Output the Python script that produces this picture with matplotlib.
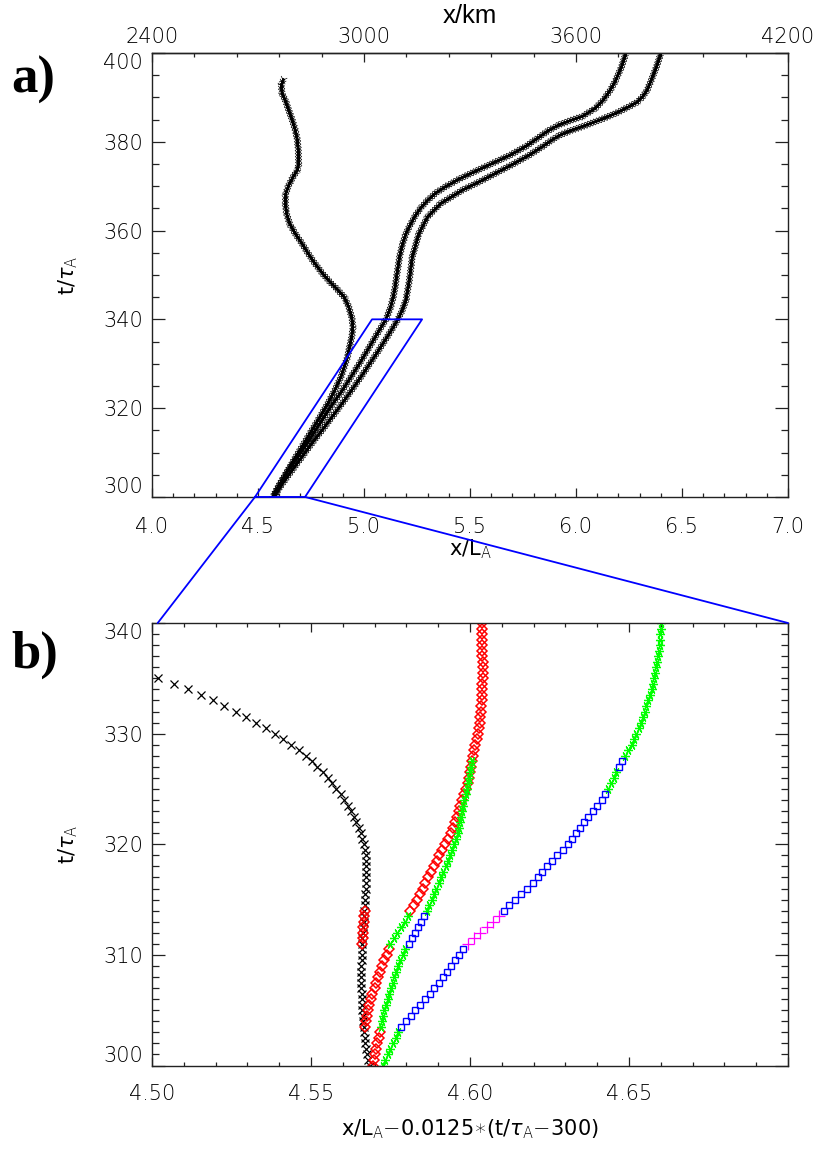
import numpy as np
import matplotlib
matplotlib.use("Agg")
import matplotlib.pyplot as plt
from matplotlib import patheffects as pe
from matplotlib.patches import ConnectionPatch
from matplotlib.ticker import FixedLocator, MultipleLocator

plt.rcParams['font.family'] = ['DejaVu Sans']
plt.rcParams['font.weight'] = 'light'
plt.rcParams['mathtext.fontset'] = 'dejavusans'

# ---------------- panel a: front tracks in x/L_A versus t/tau_A ----------------
c1_t = [300.0, 303.0, 306.0, 309.0, 312.0, 315.0, 318.0, 321.0, 324.0, 327.0, 329.3,
        331.5, 333.8, 336.0, 338.3, 340.5, 342.8, 345.0, 346.7, 348.4, 350.3, 352.6,
        354.8, 357.1, 359.3, 361.6, 363.8, 366.1, 368.3, 370.2, 372.1, 373.6, 375.1,
        378.1, 380.3, 382.6, 384.8, 387.1, 389.3, 390.8, 392.7, 394.2]
c1_x = [4.569, 4.604, 4.641, 4.678, 4.716, 4.754, 4.792, 4.829, 4.862, 4.891, 4.907,
        4.922, 4.932, 4.942, 4.948, 4.942, 4.928, 4.907, 4.875, 4.840, 4.805, 4.768,
        4.737, 4.707, 4.676, 4.649, 4.635, 4.629, 4.631, 4.645, 4.666, 4.686, 4.692,
        4.690, 4.686, 4.676, 4.662, 4.645, 4.629, 4.614, 4.610, 4.621]

c2_t = [300.0, 303.0, 306.0, 309.0, 312.0, 315.0, 318.0, 321.0, 324.0, 327.0, 330.0,
        333.0, 336.0, 338.0, 340.0, 342.8, 345.0, 347.3, 350.0, 354.1, 357.0, 359.3,
        361.0, 363.1, 365.0, 366.8, 368.5, 369.8, 371.5, 373.0, 375.0, 377.0, 379.0,
        381.0, 382.5, 383.8, 384.8, 385.7, 387.5, 389.4, 391.5, 393.5, 396.9, 400.0]
c2_x = [4.572, 4.605, 4.643, 4.687, 4.730, 4.771, 4.812, 4.853, 4.898, 4.938, 4.978,
        5.016, 5.053, 5.078, 5.104, 5.126, 5.138, 5.147, 5.155, 5.168, 5.182, 5.198,
        5.215, 5.239, 5.266, 5.300, 5.340, 5.382, 5.445, 5.510, 5.600, 5.690, 5.765,
        5.825, 5.870, 5.920, 5.975, 6.030, 6.090, 6.129, 6.160, 6.184, 6.215, 6.236]

c3_t = [300.0, 303.0, 306.0, 309.0, 312.0, 315.0, 318.0, 321.0, 324.0, 327.0, 330.0,
        333.0, 336.0, 338.0, 340.0, 342.0, 344.3, 348.8, 354.1, 359.3, 363.1, 366.1,
        369.1, 371.0, 373.0, 375.0, 377.0, 379.0, 380.5, 381.5, 382.5, 383.5, 385.0,
        386.5, 387.9, 388.9, 390.2, 391.5, 393.5, 396.9, 400.0]
c3_x = [4.573, 4.615, 4.661, 4.707, 4.753, 4.802, 4.849, 4.896, 4.941, 4.985, 5.027,
        5.069, 5.109, 5.135, 5.160, 5.180, 5.198, 5.214, 5.228, 5.259, 5.300, 5.362,
        5.464, 5.545, 5.625, 5.705, 5.780, 5.845, 5.890, 5.925, 5.975, 6.035, 6.118,
        6.192, 6.250, 6.288, 6.315, 6.334, 6.352, 6.380, 6.401]

# zoom box (parallelogram) corners in panel a
box_x = [4.486, 4.722, 5.274, 5.038, 4.486]
box_t = [300.0, 300.0, 340.0, 340.0, 300.0]

# ---------------- panel b: sheared coordinate, snapshots every 0.5 t/tau_A ----------------
DT = 0.5
black_t0 = 300.0
black_x = [4.5685, 4.5680, 4.5676, 4.5673, 4.5671, 4.5670, 4.5668, 4.5666, 4.5665, 4.5663,
           4.5662, 4.5661, 4.5660, 4.5659, 4.5658, 4.5658, 4.5658, 4.5658, 4.5658, 4.5659,
           4.5659, 4.5660, 4.5661, 4.5662, 4.5663, 4.5664, 4.5666, 4.5667, 4.5668, 4.5669,
           4.5670, 4.5671, 4.5672, 4.5673, 4.5674, 4.5674, 4.5674, 4.5673, 4.5672, 4.5669,
           4.5666, 4.5662, 4.5657, 4.5651, 4.5643, 4.5635, 4.5625, 4.5615, 4.5604, 4.5593,
           4.5580, 4.5567, 4.5553, 4.5537, 4.5520, 4.5502, 4.5483, 4.5461, 4.5438, 4.5413,
           4.5387, 4.5358, 4.5328, 4.5296, 4.5263, 4.5228, 4.5192, 4.5153, 4.5112, 4.5068,
           4.5020, 4.4970]

red_on_black_t0 = 311.0
red_on_black_x = [4.5662, 4.5663, 4.5664, 4.5665, 4.5667, 4.5668, 4.5669]

# track starting red at the bottom, then green / blue / green
p_red_t0 = 300.0
p_red_x = [4.5696, 4.5699, 4.5702, 4.5705, 4.5709, 4.5713, 4.5717]
p_green1_t0 = 303.5
p_green1_x = [4.5721, 4.5724, 4.5727, 4.5731, 4.5736, 4.5741, 4.5746, 4.5751, 4.5757,
              4.5762, 4.5768, 4.5774, 4.5781, 4.5788, 4.5797]
p_blue_t0 = 311.0
p_blue_x = [4.5808, 4.5818, 4.5828, 4.5838, 4.5847, 4.5856]
p_green2_t0 = 314.0
p_green2_x = [4.5864, 4.5872, 4.5880, 4.5887, 4.5894, 4.5901, 4.5909, 4.5916, 4.5924,
              4.5931, 4.5938, 4.5944, 4.5950, 4.5956, 4.5961, 4.5965, 4.5969, 4.5972,
              4.5975, 4.5979, 4.5982, 4.5986, 4.5990, 4.5994, 4.5997, 4.5999, 4.6002,
              4.6005]

# track leaving the black one: red / green / red
q_red1_t0 = 303.5
q_red1_x = [4.5670, 4.5673, 4.5676, 4.5679, 4.5683, 4.5688, 4.5693, 4.5700, 4.5706,
            4.5712, 4.5718, 4.5724, 4.5731, 4.5738, 4.5746]
q_green_t0 = 311.0
q_green_x = [4.5750, 4.5761, 4.5772, 4.5784, 4.5795, 4.5805]
q_red2_t0 = 314.0
q_red2_x = [4.5812, 4.5823, 4.5833, 4.5842, 4.5851, 4.5859, 4.5867, 4.5876, 4.5886,
            4.5895, 4.5904, 4.5913, 4.5922, 4.5932, 4.5940, 4.5947, 4.5954, 4.5960,
            4.5965, 4.5970, 4.5976, 4.5982, 4.5988, 4.5993, 4.5997, 4.5999, 4.6002,
            4.6005, 4.6009, 4.6013, 4.6017, 4.6021, 4.6024, 4.6027, 4.6030, 4.6032,
            4.6034, 4.6036, 4.6037, 4.6038, 4.6039, 4.6039, 4.6040, 4.6040, 4.6040,
            4.6040, 4.6039, 4.6039, 4.6039, 4.6038, 4.6038, 4.6037, 4.6037]

# right-hand track: green / blue / magenta / blue / green / blue / green
r_green1_t0 = 300.0
r_green1_x = [4.5727, 4.5734, 4.5742, 4.5750, 4.5758, 4.5766, 4.5774]
r_blue1_t0 = 303.5
r_blue1_x = [4.5783, 4.5799, 4.5814, 4.5828, 4.5843, 4.5858, 4.5873, 4.5888, 4.5902,
             4.5915, 4.5928, 4.5940, 4.5952, 4.5964, 4.5977]
r_mag_t0 = 311.0
r_mag_x = [4.5993, 4.6013, 4.6033, 4.6053, 4.6072, 4.6091]
r_blue2_t0 = 314.0
r_blue2_x = [4.6107, 4.6124, 4.6142, 4.6160, 4.6178, 4.6197, 4.6213, 4.6228, 4.6242,
             4.6258, 4.6275, 4.6292, 4.6307, 4.6320, 4.6333, 4.6345, 4.6357, 4.6370,
             4.6386, 4.6400, 4.6414, 4.6425]
r_green2_t0 = 325.0
r_green2_x = [4.6433, 4.6443, 4.6452, 4.6460]
r_blue3_t0 = 327.0
r_blue3_x = [4.6470, 4.6478]
r_green3_t0 = 328.0
r_green3_x = [4.6487, 4.6497, 4.6508, 4.6516, 4.6523, 4.6530, 4.6537, 4.6543, 4.6549,
              4.6555, 4.6561, 4.6567, 4.6572, 4.6576, 4.6579, 4.6582, 4.6585, 4.6588,
              4.6591, 4.6593, 4.6596, 4.6598, 4.6599, 4.6600, 4.6601]

TICK_FS = 15

fig = plt.figure(figsize=(8.3, 11.63), dpi=100)
ax1 = fig.add_axes([0.1831, 0.5727, 0.7663, 0.3818])
ax2 = fig.add_axes([0.1831, 0.0838, 0.7663, 0.3805])


def style_axes(ax, xpad):
    for s in ax.spines.values():
        s.set_linewidth(1.0)
        s.set_color('#222222')
    ax.tick_params(which='both', direction='in', top=True, right=True,
                   labelsize=TICK_FS, width=0.9, color='#222222')
    ax.tick_params(axis='y', which='major', length=9.5, pad=6.5)
    ax.tick_params(axis='y', which='minor', length=5)
    ax.tick_params(axis='x', which='major', length=6.5, pad=xpad)
    ax.tick_params(axis='x', which='minor', length=3)
    # end labels of the t axis sit inside the frame, as in the original
    ticks = ax.yaxis.get_major_ticks()
    ticks[0].label1.set_va('bottom')
    ticks[-1].label1.set_va('top')


# ---- panel a ----
band = [pe.withTickedStroke(spacing=2.2, angle=a, length=1.5, linewidth=0.5,
                            foreground='k') for a in (45, 135, -45, -135)]
band.append(pe.Normal())
for xs, ts in [(c1_x, c1_t), (c2_x, c2_t), (c3_x, c3_t)]:
    ax1.plot(xs, ts, color='k', lw=1.6, path_effects=band, solid_capstyle='butt')

ax1.plot(box_x, box_t, color='#0000ff', lw=1.3, clip_on=False, zorder=5)

ax1.set_xlim(4.0, 7.0)
ax1.set_ylim(300, 400)
ax1.xaxis.set_major_locator(MultipleLocator(0.5))
ax1.xaxis.set_minor_locator(MultipleLocator(0.1))
ax1.yaxis.set_major_locator(FixedLocator([300, 320, 340, 360, 380, 400]))
ax1.yaxis.set_minor_locator(MultipleLocator(5))
ax1.xaxis.set_major_formatter(matplotlib.ticker.FormatStrFormatter('%.1f'))
style_axes(ax1, 14.5)
ax1.tick_params(axis='x', which='both', top=False)

sec = ax1.secondary_xaxis('top', functions=(lambda v: v * 600.0, lambda v: v / 600.0))
sec.xaxis.set_major_locator(FixedLocator([2400, 3000, 3600, 4200]))
sec.xaxis.set_minor_locator(MultipleLocator(120))
sec.tick_params(which='both', direction='in', labelsize=TICK_FS, width=0.9,
                color='#222222')
sec.tick_params(which='major', length=6.5, pad=4)
sec.tick_params(which='minor', length=3)
sec.spines['top'].set_linewidth(1.0)
sec.spines['top'].set_color('#222222')

ax1.set_xlabel(r'x/L$_{\rm A}$', fontsize=TICK_FS)
ax1.xaxis.set_label_coords(0.5, -0.117)
ax1.xaxis.label.set_va('center')
ax1.set_ylabel(r't/$\tau_{\rm A}$', fontsize=TICK_FS)
ax1.yaxis.set_label_coords(-0.132, 0.5)
ax1.yaxis.label.set_va('center')

# ---- panel b ----
segments = [
    (black_t0, black_x, 'k', 'x', 5.5, 'k', 0.9),
    (red_on_black_t0, red_on_black_x, '#ff0000', 'D', 4.6, 'none', 1.1),
    (p_red_t0, p_red_x, '#ff0000', 'D', 4.6, 'none', 1.1),
    (q_red1_t0, q_red1_x, '#ff0000', 'D', 4.6, 'none', 1.1),
    (q_red2_t0, q_red2_x, '#ff0000', 'D', 4.6, 'none', 1.1),
    (p_green1_t0, p_green1_x, '#00ff00', (6, 2, 90), 6.5, '#00ff00', 0.9),
    (p_green2_t0, p_green2_x, '#00ff00', (6, 2, 90), 6.5, '#00ff00', 0.9),
    (q_green_t0, q_green_x, '#00ff00', (6, 2, 90), 6.5, '#00ff00', 0.9),
    (r_green1_t0, r_green1_x, '#00ff00', (6, 2, 90), 6.5, '#00ff00', 0.9),
    (r_green2_t0, r_green2_x, '#00ff00', (6, 2, 90), 6.5, '#00ff00', 0.9),
    (r_green3_t0, r_green3_x, '#00ff00', (6, 2, 90), 6.5, '#00ff00', 0.9),
    (p_blue_t0, p_blue_x, '#0000ff', 's', 4.0, 'none', 1.0),
    (r_blue1_t0, r_blue1_x, '#0000ff', 's', 4.0, 'none', 1.0),
    (r_blue2_t0, r_blue2_x, '#0000ff', 's', 4.0, 'none', 1.0),
    (r_blue3_t0, r_blue3_x, '#0000ff', 's', 4.0, 'none', 1.0),
    (r_mag_t0, r_mag_x, '#ff00ff', '+', 8, '#ff00ff', 0.9),
]
for t0, xs, col, mk, ms, mfc, mw in segments:
    ts = t0 + DT * np.arange(len(xs))
    ax2.plot(xs, ts, ls='none', marker=mk, ms=ms, mec=col, mfc=mfc, mew=mw)

ax2.set_xlim(4.50, 4.70)
ax2.set_ylim(300, 340)
ax2.xaxis.set_major_locator(FixedLocator([4.50, 4.55, 4.60, 4.65, 4.70]))
ax2.xaxis.set_major_formatter(matplotlib.ticker.FixedFormatter(['4.50', '4.55', '4.60', '4.65', '']))
ax2.xaxis.set_minor_locator(MultipleLocator(0.01))
ax2.yaxis.set_major_locator(FixedLocator([300, 310, 320, 330, 340]))
ax2.yaxis.set_minor_locator(MultipleLocator(1))
style_axes(ax2, 13.5)

ax2.set_xlabel(r'x/L$_{\rm A}$$-$0.0125$\ast$(t/$\tau_{\rm A}$$-$300)', fontsize=TICK_FS)
ax2.xaxis.set_label_coords(0.5, -0.1435)
ax2.xaxis.label.set_va('center')
ax2.set_ylabel(r't/$\tau_{\rm A}$', fontsize=TICK_FS)
ax2.yaxis.set_label_coords(-0.132, 0.5)
ax2.yaxis.label.set_va('center')

# zoom lines from the box to panel b
for xa, xb in [(box_x[0], 0.009), (box_x[1], 1.0)]:
    con = ConnectionPatch(xyA=(xa, 300.0), coordsA=ax1.transData,
                          xyB=(xb, 1.0), coordsB=ax2.transAxes,
                          color='#0000ff', lw=1.3)
    fig.add_artist(con)

fig.text(470 / 830, 1 - 16 / 1163, 'x/km', ha='center', va='center',
         fontsize=18.5, fontweight='normal', family='Liberation Sans')
fig.text(33 / 830, 1 - 80 / 1163, 'a)', ha='center', va='center',
         fontsize=38, fontweight='bold', family='Liberation Serif')
fig.text(35 / 830, 1 - 655 / 1163, 'b)', ha='center', va='center',
         fontsize=38, fontweight='bold', family='Liberation Serif')

fig.savefig('out.png', dpi=100)
